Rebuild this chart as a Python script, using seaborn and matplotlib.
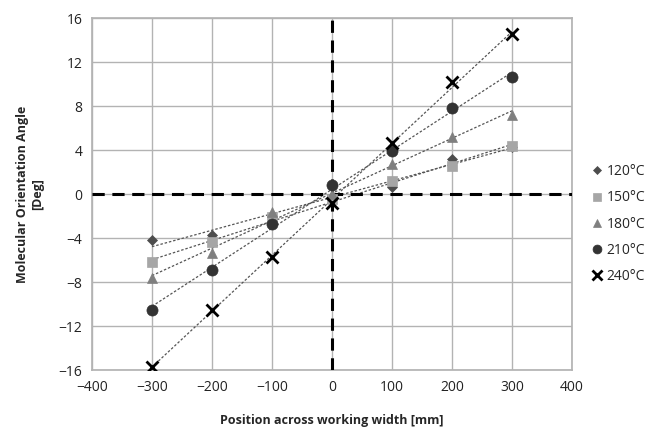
import numpy as np
import pandas as pd
import matplotlib
matplotlib.use("Agg")
import matplotlib.pyplot as plt
import seaborn as sns

positions = [-300, -200, -100, 0, 100, 200, 300]
series_labels = ["120°C", "150°C", "180°C", "210°C", "240°C"]
t120 = [-4.2, -3.7, -2.0, -0.3, 0.6, 3.2, 4.3]
t150 = [-6.2, -4.4, -2.1, -0.5, 1.2, 2.5, 4.4]
t180 = [-7.6, -5.4, -1.6, 0.0, 2.7, 5.2, 7.2]
t210 = [-10.5, -6.9, -2.7, 0.8, 3.9, 7.8, 10.6]
t240 = [-15.7, -10.5, -5.7, -0.8, 4.6, 10.2, 14.5]
values = [t120, t150, t180, t210, t240]

xticks = [-400, -300, -200, -100, 0, 100, 200, 300, 400]
yticks = [-16, -12, -8, -4, 0, 4, 8, 12, 16]

markers = ["D", "s", "^", "o", "x"]
colors = ["#4d4d4d", "#a6a6a6", "#7f7f7f", "#333333", "#000000"]
sizes = [5, 7, 7.5, 8, 9]

sns.set_theme(style="white")
plt.rcParams['font.family'] = ['Open Sans', 'DejaVu Sans']

fig = plt.figure(figsize=(6.48, 4.40), dpi=100)
ax = fig.add_axes([92/648, 1-370/440, (572-92)/648, (370-18)/440])

handles = []
for lab, vals, m, c, s in zip(series_labels, values, markers, colors, sizes):
    d = pd.DataFrame({"x": positions, "y": vals})
    sns.regplot(data=d, x="x", y="y", ax=ax, ci=None, scatter=False, truncate=True,
                line_kws=dict(color="#555555", lw=0.9, ls=(0, (2, 1.5))))
    h, = ax.plot(d["x"], d["y"], ls="none", marker=m, color=c, ms=s,
                 mew=2 if m == "x" else 0.5, zorder=5, label=lab)
    handles.append(h)

ax.axhline(0, color="black", lw=2.2, ls=(0, (4, 2.5)), zorder=3)
ax.axvline(0, color="black", lw=2.2, ls=(0, (4, 2.5)), zorder=3)

ax.set_xlim(-400, 400)
ax.set_ylim(-16, 16)
ax.set_xticks(xticks)
ax.set_yticks(yticks)
ax.grid(True, color="#b3b3b3", lw=1)
ax.set_axisbelow(True)
for sp in ax.spines.values():
    sp.set_color("#b3b3b3")
ax.tick_params(length=0, labelsize=10, colors="#222222", pad=7)
ax.set_xlabel("Position across working width [mm]", fontsize=9, fontweight="bold")
ax.xaxis.set_label_coords(0.5, -(420-370)/352)
ax.xaxis.label.set_va("center")
ax.set_ylabel("Molecular Orientation Angle\n[Deg]", fontsize=9, fontweight="bold")
ax.yaxis.set_label_coords(-(92-30)/480, 0.5)
ax.yaxis.label.set_va("center")

fig.legend(handles=handles, labels=series_labels, loc="center left",
           bbox_to_anchor=(587/648, 1-224/440), frameon=False, fontsize=10,
           handlelength=0.7, handletextpad=0.3, labelspacing=0.8, borderaxespad=0,
           markerscale=0.8)

fig.savefig("out.png", dpi=100)
